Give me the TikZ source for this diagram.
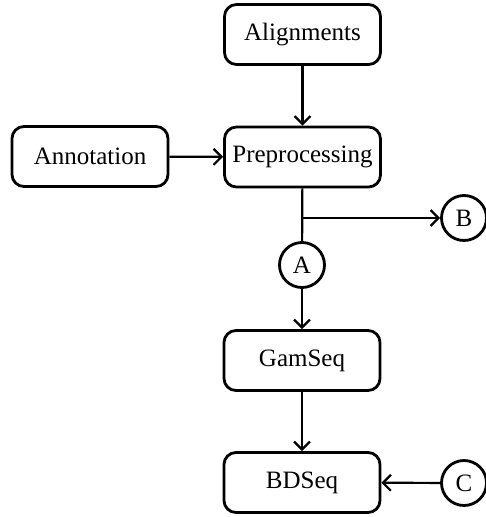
\documentclass[tikz,border=0pt]{standalone}
\usepackage{fontspec}
\setmainfont{Liberation Serif}
\usetikzlibrary{arrows.meta}
\begin{document}
\begin{tikzpicture}[x=1pt,y=-1pt,
  box/.style={draw,line width=2.8pt,rounded corners=12pt,minimum width=156pt,minimum height=60pt,inner sep=0pt,font=\fontsize{25}{29}\selectfont},
  conn/.style={draw,line width=2.8pt,circle,minimum size=45pt,inner sep=0pt,font=\fontsize{25}{29}\selectfont},
  arr/.style={line width=2.2pt,-{Straight Barb[length=8pt,width=16pt,line width=2.2pt]}},
  ln/.style={line width=2.2pt}]
\useasboundingbox (0,0) rectangle (485,517);
\node[box] (align) at (302.5,34.5) {Alignments};
\node[box] (pre) at (302.5,157) {Preprocessing};
\node[box] (anno) at (90,156.5) {Annotation};
\node[box] (gam) at (302,360.5) {GamSeq};
\node[box] (bd) at (302,482.5) {BDSeq};
\node[conn] (A) at (302,265) {A};
\node[conn] (B) at (464,218) {B};
\node[conn] (C) at (464,483) {C};
\coordinate (br) at (302,218);
\draw[arr] (align) -- (pre);
\draw[arr] (anno) -- (pre);
\draw[ln] (pre) -- (A);
\draw[arr] (br) -- (B);
\draw[arr] (A) -- (gam);
\draw[arr] (gam) -- (bd);
\draw[arr] (C) -- (bd);
\end{tikzpicture}
\end{document}
